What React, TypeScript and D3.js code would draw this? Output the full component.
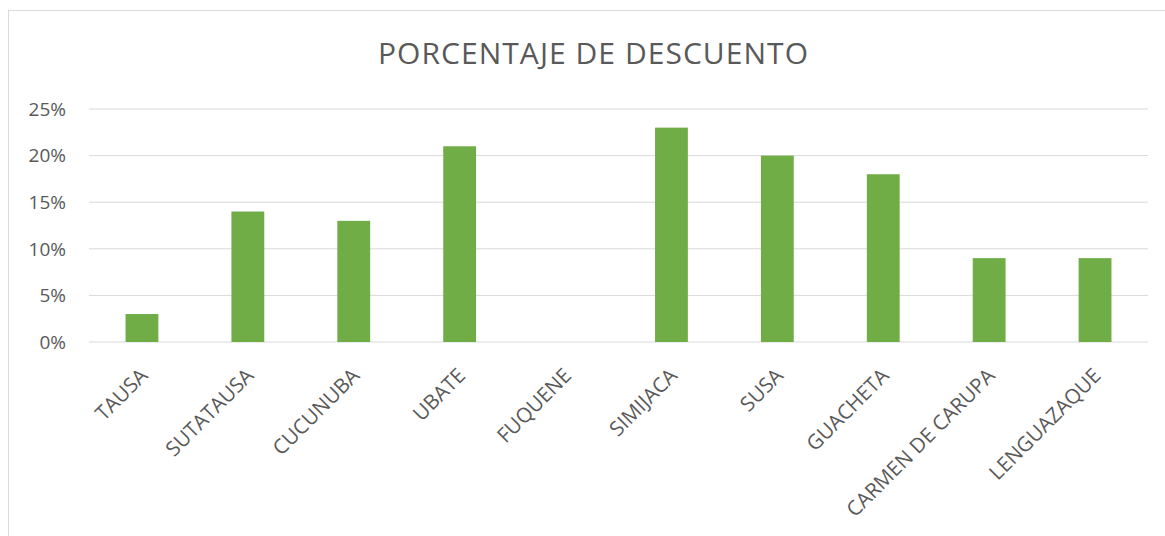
import React from "react";
import * as d3 from "d3";

const categories = ["TAUSA", "SUTATAUSA", "CUCUNUBA", "UBATE", "FUQUENE", "SIMIJACA", "SUSA", "GUACHETA", "CARMEN DE CARUPA", "LENGUAZAQUE"];
const values = [0.03, 0.14, 0.13, 0.21, 0, 0.23, 0.20, 0.18, 0.09, 0.09];
const yTicks = [0, 0.05, 0.10, 0.15, 0.20, 0.25];
const title = "PORCENTAJE DE DESCUENTO";

const W = 1165, H = 536;
const left = 89, right = 1148, top = 109, bottom = 342;
const FONT = "'Open Sans', 'Noto Sans', sans-serif";
const TXT = "#595959";

export default function App() {
  const x = d3.scaleBand<string>().domain(categories).range([left, right]).paddingInner(0.69).paddingOuter(0.345);
  const y = d3.scaleLinear().domain([0, 0.25]).range([bottom, top]);
  const fmt = d3.format(".0%");
  return (
    <svg width={W} height={H} style={{ position: "absolute", left: 0, top: 0, background: "#fff" }} fontFamily={FONT}>
      <rect x={8.5} y={10.5} width={W} height={H} fill="#fff" stroke="#d9d9d9" strokeWidth={1} />
      <text x={593} y={64} textAnchor="middle" fontSize={30} fill={TXT} textLength={430} lengthAdjust="spacing">{title}</text>
      {yTicks.map((t) => (
        <g key={t}>
          <line x1={left} x2={right} y1={y(t)} y2={y(t)} stroke="#d9d9d9" strokeWidth={1} />
          <text x={66} y={y(t)} dy="0.36em" textAnchor="end" fontSize={19} fill={TXT}>{fmt(t)}</text>
        </g>
      ))}
      {categories.map((c, i) => (
        <rect key={c} x={x(c)} y={y(values[i])} width={x.bandwidth()} height={y(0) - y(values[i])} fill="#70AD47" />
      ))}
      {categories.map((c) => {
        const cx = (x(c) as number) + x.bandwidth() / 2;
        return (
          <text key={c} transform={`translate(${cx + 7},${377}) rotate(-45)`} textAnchor="end" fontSize={20.5} fill={TXT}>{c}</text>
        );
      })}
    </svg>
  );
}
